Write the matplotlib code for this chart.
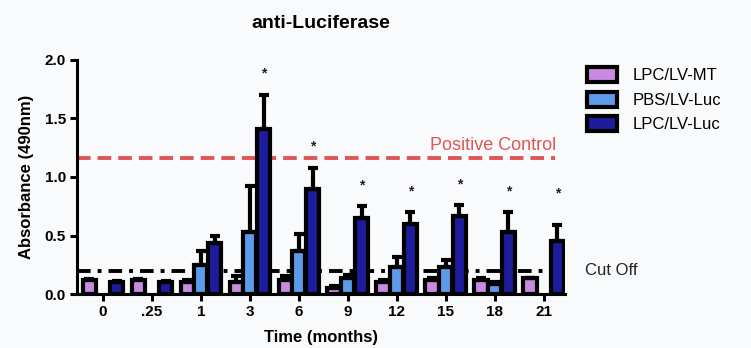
import numpy as np
import matplotlib
matplotlib.use("Agg")
import matplotlib.pyplot as plt
from matplotlib.patches import Patch

plt.rcParams['font.family'] = ['Liberation Sans', 'DejaVu Sans']

labels = ['0', '.25', '1', '3', '6', '9', '12', '15', '18', '21']
series = ['LPC/LV-MT', 'PBS/LV-Luc', 'LPC/LV-Luc']
mt = [0.12, 0.12, 0.10, 0.10, 0.12, 0.05, 0.10, 0.12, 0.12, 0.14]
mt_err = [0.01, 0.01, 0.02, 0.05, 0.03, 0.02, 0.02, 0.02, 0.02, 0.00]
pbs = [np.nan, np.nan, 0.25, 0.53, 0.37, 0.14, 0.23, 0.23, 0.09, np.nan]
pbs_err = [np.nan, np.nan, 0.12, 0.39, 0.14, 0.02, 0.09, 0.06, 0.01, np.nan]
luc = [0.10, 0.10, 0.44, 1.41, 0.90, 0.65, 0.60, 0.67, 0.53, 0.45]
luc_err = [0.01, 0.01, 0.06, 0.29, 0.18, 0.10, 0.10, 0.09, 0.17, 0.14]
starred = [False, False, False, True, True, True, True, True, True, True]
positive_control = 1.16
cut_off = 0.20

colors = ['#c98be0', '#5b9bea', '#1c1c9c']

fig = plt.figure(figsize=(7.51, 3.48), dpi=100, facecolor='#f9fafc')
ax = fig.add_axes([0.1025, 0.155, 0.6495, 0.673])
ax.set_facecolor('#f9fafc')

x = np.arange(len(labels))
w = 0.27
offs = [-0.28, 0.0, 0.28]
data = [(mt, mt_err), (pbs, pbs_err), (luc, luc_err)]
for k, (vals, errs) in enumerate(data):
    v = np.array(vals, dtype=float)
    e = np.array(errs, dtype=float)
    m = ~np.isnan(v)
    xs = x[m] + offs[k]
    ax.bar(xs, v[m], width=w, color=colors[k], edgecolor='black', linewidth=3.0, zorder=3)
    ax.errorbar(xs, v[m], yerr=[np.zeros(m.sum()), e[m]], fmt='none', ecolor='black',
                elinewidth=3, capsize=3.5, capthick=3, zorder=4)

for i in range(len(labels)):
    if starred[i]:
        top = luc[i] + luc_err[i]
        ax.text(x[i] + offs[2], max(top + 0.18, 0.86), '*', ha='center', va='center',
                fontsize=10, fontweight='bold', color='#222222')

ax.axhline(positive_control, color='#e05555', linestyle=(0, (3.5, 1.8)), linewidth=2.8, zorder=2,
           xmax=0.98)
ax.axhline(cut_off, color='black', linestyle=(0, (3.5, 1.8, 1, 1.8)), linewidth=2.8, zorder=2)
ax.text(9.25, positive_control + 0.04, 'Positive Control', color='#e05555', fontsize=13,
        ha='right', va='bottom')
ax.text(9.85, cut_off, 'Cut Off', color='#222222', fontsize=12, ha='left', va='center',
        clip_on=False)

ax.set_xlim(-0.53, 9.43)
ax.set_ylim(0, 2.0)
ax.set_yticks([0, 0.5, 1.0, 1.5, 2.0])
ax.set_yticklabels(['0.0', '0.5', '1.0', '1.5', '2.0'])
ax.set_xticks(x)
ax.set_xticklabels(labels)
for lab in ax.get_xticklabels() + ax.get_yticklabels():
    lab.set_fontweight('bold')
    lab.set_fontsize(11)
ax.tick_params(width=2.2, length=5, color='black', pad=3)
for s in ['top', 'right']:
    ax.spines[s].set_visible(False)
for s in ['left', 'bottom']:
    ax.spines[s].set_linewidth(2.2)

ax.set_title('anti-Luciferase', fontsize=14, fontweight='bold', pad=23)
ax.set_ylabel('Absorbance (490nm)', fontsize=12, fontweight='bold', labelpad=8)
ax.set_xlabel('Time (months)', fontsize=12, fontweight='bold', labelpad=8)

handles = [Patch(facecolor=c, edgecolor='black', linewidth=3.0) for c in colors]
leg = fig.legend(handles, series, loc='upper left', bbox_to_anchor=(0.762, 0.85),
                 frameon=False, fontsize=12, handlelength=1.8, handleheight=1.0,
                 labelspacing=0.5, handletextpad=0.9)

fig.savefig('out.png', dpi=100, facecolor=fig.get_facecolor())
